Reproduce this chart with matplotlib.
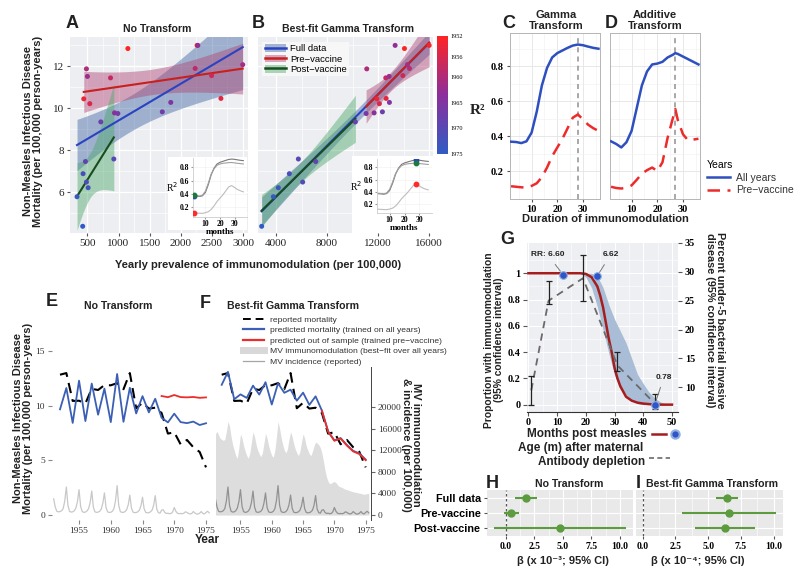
import numpy as np
import matplotlib
matplotlib.use("Agg")
import matplotlib.pyplot as plt
from matplotlib.colors import LinearSegmentedColormap, Normalize
from matplotlib.cm import ScalarMappable
from matplotlib.lines import Line2D
from matplotlib.patches import Rectangle, Patch

SANS = ["Liberation Sans", "DejaVu Sans"]
SERIF = ["Liberation Serif", "DejaVu Serif"]
plt.rcParams["font.family"] = SANS
plt.rcParams["mathtext.fontset"] = "dejavusans"

# ------------------------------------------------------------------ data
years = np.arange(1952, 1976)
VACCINE_YEAR = 1968
prev_yearly = np.array([1150, 2262, 441, 2645, 538, 2495, 871, 2231, 484, 2995, 500, 2274,
                        935, 1839, 989, 1703, 715, 468, 924, 484, 430, 511, 333, 424])
prev_gamma = np.array([14063, 16000, 11898, 12627, 12100, 13937, 12600, 14455, 11110, 14298,
                       12862, 13333, 11686, 12886, 11059, 12337, 10220, 7110, 5752, 6090,
                       5047, 4183, 3791, 2878])
mortality = np.array([12.85, 13.0, 10.45, 10.47, 10.22, 11.56, 11.45, 11.9, 11.88, 12.08,
                      11.52, 13.0, 9.78, 10.28, 9.75, 9.83, 9.35, 7.46, 7.58, 6.48,
                      6.88, 6.21, 5.78, 4.37])

months_c = [2, 4, 6, 8, 10, 12, 14, 16, 18, 20, 22, 24, 26, 28, 30, 32, 34, 36]
r2_gamma_all = [0.368, 0.366, 0.36, 0.37, 0.42, 0.54, 0.69, 0.79, 0.85, 0.875, 0.89, 0.905,
                0.918, 0.924, 0.92, 0.912, 0.905, 0.9]
r2_gamma_pre = [0.113, 0.11, 0.107, 0.105, 0.115, 0.13, 0.165, 0.22, 0.285, 0.335, 0.385,
                0.445, 0.505, 0.524, 0.495, 0.465, 0.445, 0.43]
r2_gamma_post = [0.375, 0.372, 0.366, 0.38, 0.44, 0.56, 0.7, 0.78, 0.83, 0.85, 0.86, 0.865,
                 0.87, 0.872, 0.866, 0.86, 0.855, 0.85]
months_d = [2, 4, 6, 8, 10, 12, 14, 16, 18, 20, 22, 24, 26, 27, 28, 30, 32, 34, 36]
r2_add_all = [0.37, 0.355, 0.335, 0.365, 0.43, 0.56, 0.69, 0.77, 0.81, 0.815, 0.825, 0.85,
              0.865, 0.875, 0.87, 0.855, 0.84, 0.825, 0.81]
r2_add_pre = [0.11, 0.103, 0.1, 0.105, 0.118, 0.15, 0.185, 0.205, 0.22, 0.2, 0.25, 0.39,
              0.5, 0.555, 0.49, 0.41, 0.375, 0.38, 0.385]
best_gamma_month = 28
best_add_month = 27

t_quarter = np.arange(1951.0, 1975.51, 0.25)
incidence = [3000, 1500, 700, 600,
             650, 800, 1200, 2600,
             5200, 1800, 700, 550,
             600, 800, 1300, 2500,
             4700, 1600, 650, 500,
             550, 750, 1200, 2300,
             4450, 1500, 600, 500,
             550, 700, 1100, 2200,
             4100, 1400, 600, 480,
             520, 700, 1200, 2700,
             5450, 1800, 650, 500,
             500, 650, 1000, 1900,
             3700, 1300, 550, 450,
             480, 600, 900, 1700,
             3300, 1200, 500, 420,
             450, 600, 900, 1800,
             3600, 1100, 450, 350,
             900, 1000, 500, 300,
             350, 250, 300, 600,
             1400, 700, 350, 250,
             300, 250, 350, 600,
             500, 300, 200, 300,
             650, 400, 200, 200,
             350, 650, 300, 200,
             500, 700, 400]
immunomod = [15000, 15500, 14800, 14200,
             14000, 13800, 14000, 15500,
             17300, 16500, 14500, 13000,
             12000, 11000, 10500, 12500,
             15000, 14200, 12800, 11800,
             11000, 10500, 11500, 13500,
             15400, 14500, 13000, 12000,
             11300, 10800, 11500, 13300,
             15100, 14200, 12800, 11800,
             11000, 10700, 12000, 14500,
             17300, 16000, 14300, 13000,
             12000, 11500, 12200, 14000,
             15400, 14500, 13200, 12200,
             11500, 11000, 11800, 13500,
             15000, 14200, 12800, 12000,
             11300, 11000, 11800, 12800,
             13500, 13300, 13000, 12500,
             11500, 10000, 8300, 7000,
             6200, 5800, 5900, 6100,
             6200, 6000, 5600, 5300,
             5200, 5100, 4900, 4800,
             4700, 4600, 4500, 4400,
             4300, 4250, 4200, 4100,
             4050, 4000, 3900, 3850,
             3900, 4000, 4000]

g_months = [0, 10, 18, 20, 22, 24, 25, 26, 27, 28, 29, 30, 31, 32, 34, 36, 38, 40, 44, 50]
g_prop = [1, 1, 1, 0.995, 0.97, 0.9, 0.83, 0.74, 0.62, 0.5, 0.4, 0.28, 0.2, 0.14, 0.06,
          0.03, 0.015, 0.008, 0, 0]
band_m = [18, 20, 22, 24, 26, 28, 30, 32, 34, 36, 38, 40, 42, 44, 46, 48, 50]
band_lo = [1.0, 0.97, 0.89, 0.745, 0.57, 0.39, 0.225, 0.13, 0.07, 0.03, 0.007, 0, 0, 0, 0, 0, 0]
band_hi = [1.0, 1.0, 1.0, 0.98, 0.89, 0.76, 0.65, 0.56, 0.47, 0.35, 0.23, 0.16, 0.095, 0.05,
           0.02, 0.005, 0]
ibd_months = [1, 7, 19, 31, 44]
ibd_pct = [9.5, 25.0, 28.9, 13.8, 7.2]
ibd_lo = [7.0, 24.5, 25.0, 12.8, 6.3]
ibd_hi = [11.9, 28.4, 32.9, 16.2, 8.8]
rr_months = [12, 24, 44]
rr_prop = [0.99, 0.98, 0.0]
rr_labels = ["RR: 6.60", "6.62", "0.78"]

beta_groups = ["Full data", "Pre-vaccine", "Post-vaccine"]
beta_raw = [1.77, 0.47, 4.72]
beta_raw_lo = [0.77, -0.18, -1.09]
beta_raw_hi = [2.75, 1.18, 10.57]
beta_gam = [6.43, 6.6, 6.25]
beta_gam_lo = [5.6, 2.98, 4.0]
beta_gam_hi = [7.24, 10.18, 8.55]

# ------------------------------------------------------------------ helpers
W, H = 800, 574
fig = plt.figure(figsize=(8, 5.74), dpi=100)


def rect(x0, y0, x1, y1):
    return [x0 / W, 1 - y1 / H, (x1 - x0) / W, (y1 - y0) / H]


def ftext(x, y, s, **kw):
    return fig.text(x / W, 1 - y / H, s, **kw)


T975 = {6: 2.447, 14: 2.145, 22: 2.074}


def ols(x, y):
    x = np.asarray(x, float)
    y = np.asarray(y, float)
    n = len(x)
    xm = x.mean()
    sxx = ((x - xm) ** 2).sum()
    b = ((x - xm) * (y - y.mean())).sum() / sxx
    a = y.mean() - b * xm
    s = np.sqrt(((y - (a + b * x)) ** 2).sum() / (n - 2))

    def pred(xx):
        return a + b * np.asarray(xx, float)

    def band(xx):
        xx = np.asarray(xx, float)
        se = s * np.sqrt(1 / n + (xx - xm) ** 2 / sxx)
        return pred(xx) - T975[n - 2] * se, pred(xx) + T975[n - 2] * se
    return pred, band


BG = "#eceef1"
cmap = LinearSegmentedColormap.from_list("yr", ["#ff2424", "#8c2f9c", "#2f5cc4"])
norm = Normalize(1952, 1975)
pre = years < VACCINE_YEAR
post = ~pre
allm = np.ones(len(years), bool)
FULL_BAND, PRE_BAND, POST_BAND = "#4066a3", "#b04474", "#4ea96b"
FULL_LINE, PRE_LINE, POST_LINE = "#2a43c2", "#c8201e", "#174d1f"
BLUE_TS, RED_TS = "#3a5fb5", "#ea2e2a"


def scatter_panel(ax, x, xlim, xticks, xminor):
    ax.set_facecolor(BG)
    fits = {}
    for key, mask, bc, lc in [("all", allm, FULL_BAND, FULL_LINE),
                              ("pre", pre, PRE_BAND, PRE_LINE),
                              ("post", post, POST_BAND, POST_LINE)]:
        pred, band = ols(x[mask], mortality[mask])
        xx = np.linspace(x[mask].min(), x[mask].max(), 150)
        lo, hi = band(xx)
        ax.fill_between(xx, lo, hi, color=bc, alpha=0.45, lw=0, zorder=2)
        fits[key] = (pred, xx, lc)
    for key in ["all", "pre", "post"]:
        pred, xx, lc = fits[key]
        ax.plot(xx, pred(xx), color=lc, lw=1.5, zorder=3)
    ax.scatter(x, mortality, c=years, cmap=cmap, norm=norm, s=13, zorder=4, linewidths=0)
    ax.set_xlim(*xlim)
    ax.set_ylim(4.05, 13.4)
    ax.set_xticks(xticks)
    ax.set_xticks(xminor, minor=True)
    ax.set_yticks([6, 8, 10, 12])
    ax.set_yticks([5, 7, 9, 11, 13], minor=True)
    for s in ax.spines.values():
        s.set_visible(False)
    ax.tick_params(length=2.5, color="#555", labelsize=8, labelfontfamily=SERIF,
                   labelcolor="#222", pad=2)
    ax.tick_params(which="minor", length=0)
    ax.grid(True, which="major", color="white", lw=0.9)
    ax.grid(True, which="minor", color="white", lw=0.45)
    ax.set_axisbelow(True)
    return fits


# ------------------------------------------------------------------ A & B
ax_a = fig.add_axes(rect(70, 37, 248, 233))
fits_a = scatter_panel(ax_a, prev_yearly, (220, 3080), [500, 1000, 1500, 2000, 2500, 3000],
                       [750, 1250, 1750, 2250, 2750])
ax_b = fig.add_axes(rect(258, 37, 433, 233))
fits_b = scatter_panel(ax_b, prev_gamma, (2590, 16300), [4000, 8000, 12000, 16000],
                       [6000, 10000, 14000])
ax_b.tick_params(axis="y", labelleft=False, length=0)

leg_handles = [(Patch(color=FULL_BAND, alpha=0.45, lw=0), Line2D([], [], color=FULL_LINE, lw=1.8)),
               (Patch(color=PRE_BAND, alpha=0.45, lw=0), Line2D([], [], color=PRE_LINE, lw=1.8)),
               (Patch(color=POST_BAND, alpha=0.45, lw=0), Line2D([], [], color=POST_LINE, lw=1.8))]
lg = ax_b.legend(leg_handles, ["Full data", "Pre\u2212vaccine", "Post\u2212vaccine"],
                 loc="upper left", bbox_to_anchor=(0.025, 0.975), fontsize=6.8,
                 frameon=True, facecolor="#f7f7f7", edgecolor="none", framealpha=1,
                 handlelength=2.2, handleheight=0.9, labelspacing=0.12, borderpad=0.25,
                 handletextpad=0.5, fancybox=False, borderaxespad=0)

cax = fig.add_axes(rect(437, 36, 448, 154))
cb = fig.colorbar(ScalarMappable(norm=norm, cmap=cmap), cax=cax)
cb.outline.set_visible(False)
cb.set_ticks([1952, 1956, 1960, 1965, 1970, 1975])
cax.invert_yaxis()
cax.tick_params(labelsize=4.5, length=0, labelfontfamily=SERIF, pad=1.5)


def inset(box, plot, idx):
    fig.add_artist(Rectangle((box[0] / W, 1 - box[3] / H), (box[2] - box[0]) / W,
                             (box[3] - box[1]) / H, transform=fig.transFigure,
                             facecolor="white", edgecolor="none", zorder=1))
    ax = fig.add_axes(rect(*plot))
    ax.set_zorder(2)
    ax.plot(months_c, r2_gamma_all, color="#777777", lw=0.8)
    ax.plot(months_c, r2_gamma_post, color="#a0a0a0", lw=0.8)
    ax.plot(months_c, r2_gamma_pre, color="#bdbdbd", lw=0.8)
    ax.plot(months_c[idx], r2_gamma_all[idx], "o", color=FULL_LINE, ms=3.2, zorder=5)
    ax.plot(months_c[idx], r2_gamma_post[idx], "o", color="#1d7a3c", ms=3.2, zorder=6)
    ax.plot(months_c[idx], r2_gamma_pre[idx], "o", color="#ff2a2a", ms=3.2, zorder=6)
    ax.set_xlim(1.5, 38.5)
    ax.set_ylim(0.05, 0.94)
    ax.set_xticks([10, 20, 30])
    ax.set_yticks([0.2, 0.4, 0.6, 0.8])
    ax.set_yticklabels(["0.2", "0.4", "0.6", "0.8"])
    for k, s in ax.spines.items():
        s.set_visible(k in ("left", "bottom"))
        s.set_color("#cccccc")
        s.set_linewidth(0.6)
    ax.tick_params(labelsize=5.5, length=1.5, pad=1, labelfontfamily=SERIF, color="#999")
    for lab in ax.get_xticklabels() + ax.get_yticklabels():
        lab.set_fontweight("bold")
    ax.set_xlabel("months", fontsize=6.5, family=SERIF, fontweight="bold", labelpad=0)
    ax.set_ylabel("R$^2$", fontsize=7, family=SERIF, rotation=0, labelpad=6, va="center")
    ax.grid(True, color="#f0f0f0", lw=0.4)
    return ax


inset((168, 157, 247, 230), (193, 158, 247, 217), 0)
inset((352, 156, 433, 233), (377, 159, 432, 213), months_c.index(best_gamma_month))

# ------------------------------------------------------------------ C & D


def r2_panel(ax, m, a, p, best, show_y):
    ax.set_facecolor("white")
    ax.axvline(best, color="#9a9a9a", lw=1.2, dashes=(3, 2.5), zorder=2)
    ax.plot(m, a, color="#2e4fbf", lw=1.8, zorder=3)
    ax.plot(m, p, color="#ee2b2b", lw=1.8, dashes=(5, 3), zorder=3)
    ax.set_xlim(1.6, 36.6)
    ax.set_ylim(0.04, 0.99)
    ax.set_xticks([10, 20, 30])
    ax.set_xticks([5, 15, 25, 35], minor=True)
    ax.set_yticks([0.2, 0.4, 0.6, 0.8])
    ax.set_yticks([0.3, 0.5, 0.7, 0.9], minor=True)
    ax.grid(True, which="major", color="#e4e4e4", lw=0.6)
    ax.grid(True, which="minor", color="#f0f0f0", lw=0.4)
    ax.set_axisbelow(True)
    for s in ax.spines.values():
        s.set_color("#b5b5b5")
        s.set_linewidth(0.7)
    ax.tick_params(labelsize=7.5, length=2.5, color="#555", labelfontfamily=SERIF,
                   labelleft=show_y, pad=2)
    ax.tick_params(which="minor", length=0)
    for lab in ax.get_xticklabels() + ax.get_yticklabels():
        lab.set_fontweight("bold")


ax_c = fig.add_axes(rect(510, 33, 600, 199))
r2_panel(ax_c, months_c, r2_gamma_all, r2_gamma_pre, best_gamma_month, True)
ax_d = fig.add_axes(rect(610, 33, 700, 199))
r2_panel(ax_d, months_d, r2_add_all, r2_add_pre, best_add_month, False)
ax_d.tick_params(axis="y", length=0)

fig.legend([Line2D([], [], color="#2e4fbf", lw=1.8),
            Line2D([], [], color="#ee2b2b", lw=1.8, dashes=(5, 3))],
           ["All years", "Pre\u2212vaccine"], title="Years", loc="upper left",
           bbox_to_anchor=(702 / W, 1 - 155 / H), frameon=False, fontsize=7.5,
           title_fontsize=7.5, alignment="left", handlelength=2.2, labelspacing=0.25,
           borderpad=0, handletextpad=0.6, labelcolor="#333")

# ------------------------------------------------------------------ E & F
SCALE = 2020.0
YL = (-0.45, 17.4)


def ts_axes(r, xlim):
    ax = fig.add_axes(r)
    ax2 = ax.twinx()
    ax.set_zorder(ax2.get_zorder() + 1)
    ax.patch.set_visible(False)
    ax.set_xlim(*xlim)
    ax.set_ylim(*YL)
    ax2.set_ylim(YL[0] * SCALE, YL[1] * SCALE)
    for s in list(ax.spines.values()) + list(ax2.spines.values()):
        s.set_visible(False)
    ax.set_xticks([1955, 1960, 1965, 1970, 1975])
    ax.tick_params(labelsize=6.8, length=3, color="#888", labelfontfamily=SERIF,
                   labelcolor="#333", pad=2)
    return ax, ax2


ax_e, ax_e2 = ts_axes(rect(52, 325, 210, 520), (1950.74, 1975.63))
ax_e2.plot(t_quarter, incidence, color="#c8c8c8", lw=0.9)
ax_e2.set_yticks([])
ax_e.set_yticks([0, 5, 10, 15])
pred_a_all = fits_a["all"][0]
pred_a_pre = fits_a["pre"][0]
ax_e.plot(years, mortality, color="black", lw=1.5, dashes=(5, 3))
ax_e.plot(years, pred_a_all(prev_yearly), color=BLUE_TS, lw=1.3)
ax_e.plot(years[post], pred_a_pre(prev_yearly[post]), color=RED_TS, lw=1.3)

ax_f, ax_f2 = ts_axes(rect(216, 325, 371, 520), (1951.09, 1975.85))
ax_f2.fill_between(t_quarter, 0, immunomod, color="#dddddd", lw=0)
ax_f2.plot(t_quarter, incidence, color="#929292", lw=0.9)
ax_f.tick_params(axis="y", left=False, labelleft=False)
ax_f2.set_yticks([0, 4000, 8000, 12000, 16000, 20000])
ax_f2.spines["right"].set_visible(True)
ax_f2.spines["right"].set_color("#444")
ax_f2.spines["right"].set_linewidth(0.7)
ax_f2.tick_params(labelsize=6.8, length=3, color="#666", labelfontfamily=SERIF,
                  labelcolor="#333", pad=2)
pred_b_all = fits_b["all"][0]
pred_b_pre = fits_b["pre"][0]
ax_f.plot(years, mortality, color="black", lw=1.5, dashes=(5, 3))
ax_f.plot(years, pred_b_all(prev_gamma), color=BLUE_TS, lw=1.3)
ax_f.plot(years[post], pred_b_pre(prev_gamma[post]), color=RED_TS, lw=1.3)

fig.legend([Line2D([], [], color="black", lw=1.4, dashes=(4, 2.5)),
            Line2D([], [], color=BLUE_TS, lw=1.6),
            Line2D([], [], color=RED_TS, lw=1.6),
            Line2D([], [], color="#d8d8d8", lw=5),
            Line2D([], [], color="#a5a5a5", lw=0.9)],
           ["reported mortality", "predicted mortality (trained on all years)",
            "predicted out of sample (trained pre\u2212vaccine)",
            "MV immunomodulation (best\u2212fit over all years)", "MV incidence (reported)"],
           loc="upper left", bbox_to_anchor=(242 / W, 1 - 315 / H), frameon=True,
           facecolor="white", edgecolor="none", framealpha=1, fontsize=6.1,
           handlelength=2.5, handletextpad=0.7, labelspacing=0.3, borderpad=0.1,
           borderaxespad=0, labelcolor="#333")

# ------------------------------------------------------------------ G
ax_g = fig.add_axes(rect(527, 243, 678, 412))
ax_g.set_facecolor("#eeeff2")
ax_g.fill_between(band_m, band_lo, band_hi, color="#a9bdd6", lw=0, zorder=2)
ax_g.plot(g_months, g_prop, color="#a51d1d", lw=1.8, zorder=4)
ax_g.set_xlim(-0.5, 52.1)
ax_g.set_ylim(-0.056, 1.23)
ax_g.set_xticks([0, 10, 20, 30, 40, 50])
ax_g.set_xticks([5, 15, 25, 35, 45], minor=True)
ax_g.set_yticks([0, 0.2, 0.4, 0.6, 0.8, 1.0])
ax_g.set_yticklabels(["0", "0.2", "0.4", "0.6", "0.8", "1"])
ax_g.set_yticks([0.1, 0.3, 0.5, 0.7, 0.9, 1.1], minor=True)
ax_g.grid(True, which="major", color="white", lw=0.8)
ax_g.grid(True, which="minor", color="white", lw=0.4)
ax_g.set_axisbelow(True)
for k, s in ax_g.spines.items():
    s.set_visible(k == "bottom")
ax_g.spines["bottom"].set_color("#333")
ax_g.spines["bottom"].set_linewidth(0.8)
ax_g.tick_params(labelsize=7.3, length=3, color="#555", labelfontfamily=SERIF, pad=1.5)
ax_g.tick_params(which="minor", length=0)
for lab in ax_g.get_xticklabels() + ax_g.get_yticklabels():
    lab.set_fontweight("bold")

ax_g2 = ax_g.twinx()
ax_g2.set_ylim(5.73, 34.8)
ax_g2.set_yticks([10, 15, 20, 25, 30, 35])
for s in ax_g2.spines.values():
    s.set_visible(False)
ax_g2.tick_params(labelsize=7.3, length=3, color="#555", labelfontfamily=SERIF, pad=2)
for lab in ax_g2.get_yticklabels():
    lab.set_fontweight("bold")
ax_g2.plot(ibd_months, ibd_pct, color="#6a6a6a", lw=1.3, dashes=(4, 3), zorder=3)
ibd_pct_a = np.array(ibd_pct)
ax_g2.errorbar(ibd_months, ibd_pct,
               yerr=[ibd_pct_a - np.array(ibd_lo), np.array(ibd_hi) - ibd_pct_a],
               fmt="none", ecolor="#222", elinewidth=0.9, capsize=2, capthick=0.9, zorder=4)
ax_g2.plot(rr_months, rr_prop, "o", transform=ax_g.transData, color="#2f55c8", ms=5.5,
           mec="#8fb0e0", mew=0.8, zorder=6, clip_on=False)
rr_text_pos = [(6.8, 1.14), (28.6, 1.14), (47.2, 0.21)]
for xm, yp, lab, tp in zip(rr_months, rr_prop, rr_labels, rr_text_pos):
    ax_g2.annotate(lab, xy=(xm, yp), xycoords=ax_g.transData, xytext=tp,
                   textcoords=ax_g.transData, ha="center", va="center", fontsize=6,
                   fontweight="bold", color="#222", zorder=7,
                   arrowprops=dict(arrowstyle="-", color="#777", lw=0.7, shrinkA=3, shrinkB=3))

ftext(494, 340, "Proportion with immunomodulation\n(95% confidence interval)", rotation=90,
      ha="center", va="center", fontsize=7.4, fontweight="bold", linespacing=1.05,
      color="#222")
ftext(715, 320, "Percent under-5 bacterial invasive\ndisease (95% confidence interval)",
      rotation=270, ha="center", va="center", fontsize=7.8, fontweight="bold",
      linespacing=1.1, color="#222")
ftext(647, 434, "Months post measles", ha="right", va="center", fontsize=8.5,
      fontweight="bold", color="#222")
fig.add_artist(Line2D([652 / W, 666 / W], [1 - 434 / H] * 2, transform=fig.transFigure,
                      color="#a51d1d", lw=1.8))
fig.add_artist(Line2D([675 / W], [1 - 434 / H], transform=fig.transFigure, marker="o",
                      color="#2f55c8", ms=6, mec="#8fb0e0", mew=1.5))
ftext(643, 448, "Age (m) after maternal", ha="right", va="center", fontsize=8.5,
      fontweight="bold", color="#222")
ftext(645, 462, "Antibody depletion", ha="right", va="center", fontsize=8.5,
      fontweight="bold", color="#222")
fig.add_artist(Line2D([649 / W, 670 / W], [1 - 458 / H] * 2, transform=fig.transFigure,
                      color="#6a6a6a", lw=1.2, dashes=(3, 2)))

# ------------------------------------------------------------------ H & I
GREEN = "#5d9b3f"


def beta_panel(ax, est, lo, hi, xlim, show_y):
    ax.set_facecolor("#e9e9e9")
    ypos = [3, 2, 1]
    ax.axvline(0, color="#555", lw=0.9, dashes=(2, 2), zorder=2)
    ax.hlines(ypos, lo, hi, color=GREEN, lw=1.5, zorder=3)
    ax.plot(est, ypos, "o", color=GREEN, ms=5, zorder=4)
    ax.set_xlim(*xlim)
    ax.set_ylim(0.45, 3.57)
    ax.set_xticks([0, 2.5, 5, 7.5, 10])
    ax.set_xticklabels(["0.0", "2.5", "5.0", "7.5", "10.0"])
    ax.set_xticks([1.25, 3.75, 6.25, 8.75], minor=True)
    ax.set_yticks(ypos)
    ax.set_yticklabels(beta_groups if show_y else [])
    ax.grid(True, which="major", color="white", lw=0.8)
    ax.grid(True, which="minor", axis="x", color="white", lw=0.4)
    ax.set_axisbelow(True)
    for s in ax.spines.values():
        s.set_visible(False)
    ax.tick_params(axis="x", labelsize=7.0, length=2.5, color="#555",
                   labelfontfamily=SERIF, pad=1.5)
    ax.tick_params(axis="y", labelsize=7.8, length=2.5 if show_y else 0, color="#555", pad=2)
    ax.tick_params(which="minor", length=0)
    for lab in ax.get_xticklabels() + ax.get_yticklabels():
        lab.set_fontweight("bold")


ax_h = fig.add_axes(rect(487, 490, 633, 536))
beta_panel(ax_h, beta_raw, beta_raw_lo, beta_raw_hi, (-1.67, 11.15), True)
ax_i = fig.add_axes(rect(636, 490, 783, 536))
beta_panel(ax_i, beta_gam, beta_gam_lo, beta_gam_hi, (-0.51, 10.71), False)

# ------------------------------------------------------------------ titles & labels
BOLD = dict(fontweight="bold", color="#222")
for x, y, s in [(72, 23, "A"), (258, 23, "B"), (509, 24, "C"), (611, 24, "D"),
                (52, 302, "E"), (205, 304, "F"), (507, 239, "G"), (492, 483, "H"),
                (638, 483, "I")]:
    ftext(x, y, s, ha="center", va="center", fontsize=13, **BOLD)

for x, y, s in [(157, 29, "No Transform"), (348, 29, "Best-fit Gamma Transform"),
                (118, 306, "No Transform"), (293, 306, "Best-fit Gamma Transform"),
                (569, 484, "No Transform"), (712, 484, "Best-fit Gamma Transform")]:
    ftext(x, y, s, ha="center", va="center", fontsize=7.6, **BOLD)
for x, s in [(556, "Gamma\nTransform"), (655, "Additive\nTransform")]:
    ftext(x, 20.5, s, ha="center", va="center", fontsize=8, linespacing=1.2, **BOLD)

ftext(258, 265, "Yearly prevalence of immunomodulation (per 100,000)", ha="center",
      va="center", fontsize=8, **BOLD)
ftext(33, 131, "Non-Measles Infectious Disease\nMortality (per 100,000 person-years)",
      rotation=90, ha="center", va="center", fontsize=8, linespacing=1.1, **BOLD)
ftext(478, 110, "R\u00b2", ha="center", va="center", fontsize=11, family=SERIF, **BOLD)
ftext(605, 219, "Duration of immunomodulation", ha="center", va="center", fontsize=8, **BOLD)
ftext(23, 418, "Non-Measles Infectious Disease\nMortality (per 100,000 person-years)",
      rotation=90, ha="center", va="center", fontsize=8, linespacing=1.1, **BOLD)
ftext(207, 540, "Year", ha="center", va="center", fontsize=8.5, **BOLD)
ftext(411, 445, "MV immunomodulation\n& incidence (per 100,000)", rotation=270,
      ha="center", va="center", fontsize=8, linespacing=1.1, **BOLD)
ftext(563, 561, "\u03b2 (x 10\u207b\u00b3; 95% CI)", ha="center", va="center",
      fontsize=8, family=SANS, **BOLD)
ftext(698, 561, "\u03b2 (x 10\u207b\u2074; 95% CI)", ha="center", va="center",
      fontsize=8, family=SANS, **BOLD)

fig.savefig("out.png", dpi=100)
